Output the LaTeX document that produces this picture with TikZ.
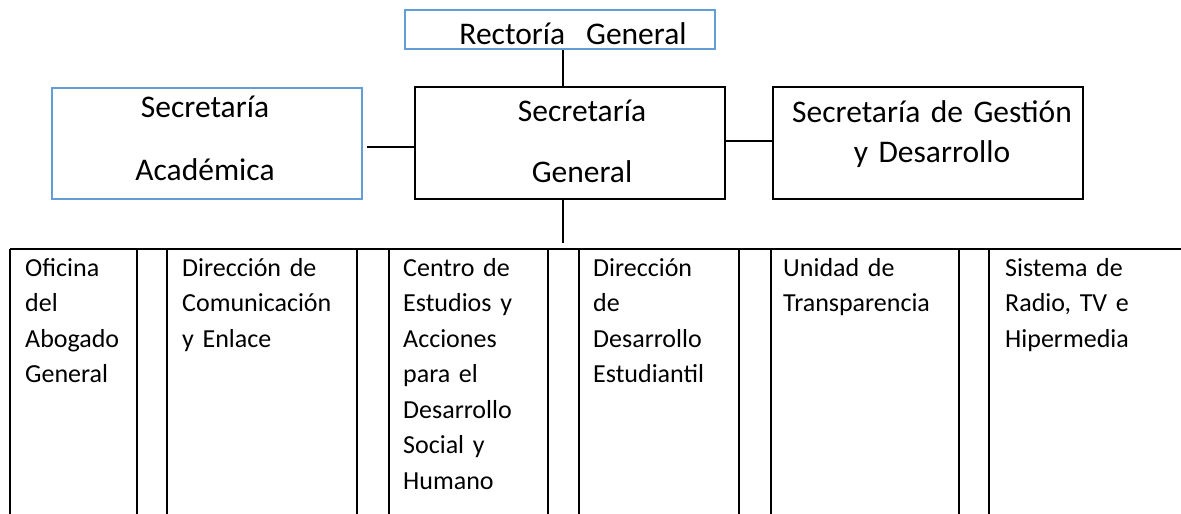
\documentclass[tikz,border=0pt]{standalone}
\usepackage{fontspec}
\setmainfont{Carlito}
\definecolor{boxblue}{RGB}{98,157,214}
\begin{document}
\begin{tikzpicture}[x=1pt,y=-1pt,
  blackbox/.style={draw=black,line width=1.6pt,rectangle,inner sep=0pt,minimum width=310pt},
  bluebox/.style={draw=boxblue,line width=2.8pt,rectangle,inner sep=0pt,minimum width=310pt},
  bigtext/.style={inner sep=0pt,anchor=base,text width=310pt,align=center},
  celltext/.style={inner sep=0pt,anchor=base west,text width=190pt,align=left,font=\fontsize{26}{35.5}\selectfont},
  conn/.style={line width=1.4pt},
  tabline/.style={line width=2.5pt}]
\useasboundingbox (0,0) rectangle (1181,514);
% boxes
\node[bluebox,minimum height=39pt] (rect) at (560,29.5) {};
\node[bluebox,minimum height=111pt] (sa) at (207,143.5) {};
\node[blackbox,minimum height=112pt] (sg) at (570,143) {};
\node[blackbox,minimum height=112pt] (sgd) at (928,143) {};
% box texts
\node[bigtext,font=\fontsize{31.5}{38}\selectfont] (trect) at (573,44) {Rectoría\ \ General};
\node[bigtext,font=\fontsize{31.5}{63}\selectfont] (tsa) at (205,117) {Secretaría\\Académica};
\node[bigtext,font=\fontsize{31.5}{61}\selectfont] (tsg) at (582,121) {Secretaría\\General};
\node[bigtext,font=\fontsize{31.5}{40}\selectfont] (tsgd) at (932,122) {Secretaría de Gestión\\y Desarrollo};
% connectors
\coordinate (vx) at (563,0);
\coordinate (ly) at (0,147);
\coordinate (ry) at (0,141);
\coordinate (tb) at (563,243);
\coordinate (sastart) at (367,147);
\draw[conn] (rect.south -| vx) -- (sg.north -| vx);
\draw[conn] (sastart) -- (sg.west |- ly);
\draw[conn] (sg.east |- ry) -- (sgd.west |- ry);
\draw[conn] (sg.south -| vx) -- (tb);
% table
\coordinate (tl) at (10,249);
\coordinate (tr) at (1181,249);
\draw[tabline] (tl) -- (tr);
\foreach \xx in {10,137,167,357,389,548,579,739,771,959,989}{
  \draw[tabline] (\xx,249) -- (\xx,516);
}
% cell texts
\node[celltext] (c1) at (25,276) {Oficina\\del\\Abogado\\General};
\node[celltext] (c2) at (182,276) {Dirección de\\Comunicación\\y Enlace};
\node[celltext] (c3) at (403,276) {Centro de\\Estudios y\\Acciones\\para el\\Desarrollo\\Social y\\Humano};
\node[celltext] (c4) at (593,276) {Dirección\\de\\Desarrollo\\Estudiantil};
\node[celltext] (c5) at (783,276) {Unidad de\\Transparencia};
\node[celltext] (c6) at (1005,276) {Sistema de\\Radio, TV e\\Hipermedia};
\end{tikzpicture}
\end{document}
